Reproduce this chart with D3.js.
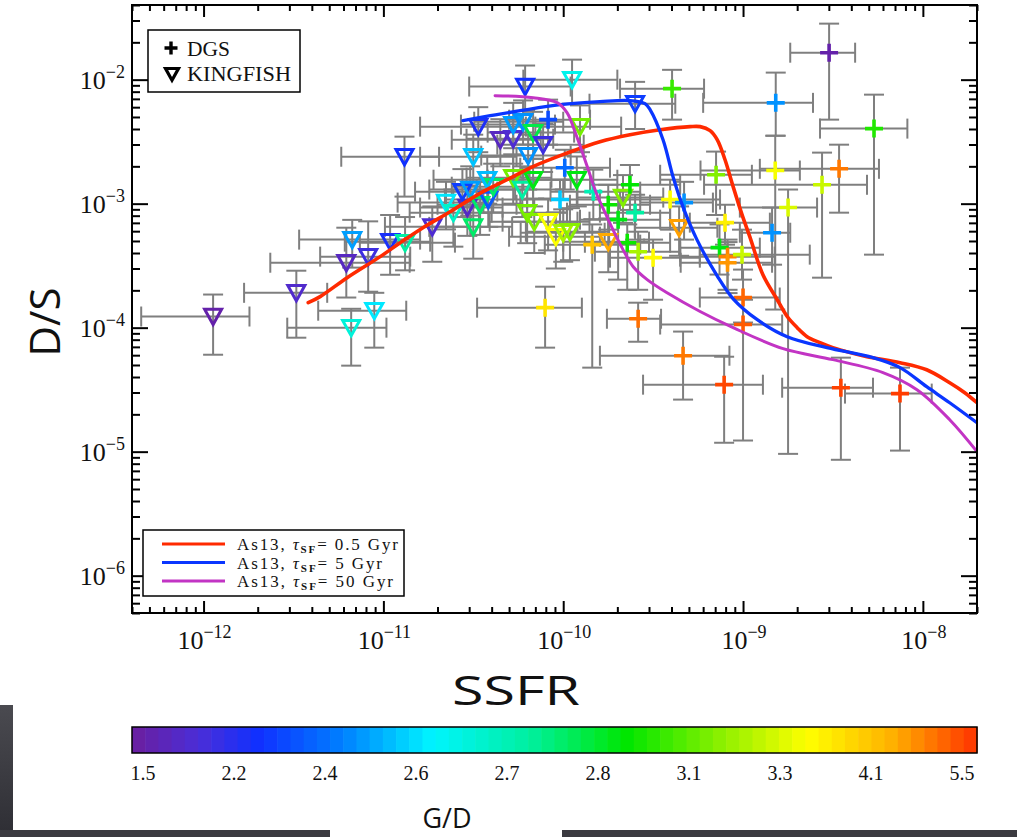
<!DOCTYPE html>
<html>
<head>
<meta charset="utf-8">
<script src="https://cdn.jsdelivr.net/npm/d3@7"></script>
<style>
  html, body { margin: 0; padding: 0; background: #fff; }
  svg { display: block; }
</style>
</head>
<body>
<svg id="chart" width="1017" height="837"></svg>
<script>
// ---- Model tracks (As13) : SSFR vs D/S ----
const redSSFR = [3.82e-12, 4.45e-12, 6.29e-12, 9.6e-12, 1.24e-11, 1.66e-11, 2.35e-11, 3.58e-11, 4.87e-11, 6.79e-11, 1.03e-10, 1.6e-10, 2.35e-10, 3.46e-10, 5.08e-10, 5.77e-10, 6.56e-10, 7.18e-10, 7.94e-10, 8.81e-10, 9.87e-10, 1.09e-9, 1.29e-9, 1.55e-9, 1.76e-9, 2.0e-9, 2.27e-9, 2.68e-9, 3.16e-9, 3.93e-9, 4.89e-9, 7.47e-9, 1.05e-8, 1.41e-8, 1.71e-8, 2.0e-8];
const redDS = [1.59e-4, 1.78e-4, 2.53e-4, 3.74e-4, 4.84e-4, 6.4e-4, 8.61e-4, 1.25e-3, 1.56e-3, 1.99e-3, 2.53e-3, 3.16e-3, 3.6e-3, 3.95e-3, 4.18e-3, 4.18e-3, 3.88e-3, 3.28e-3, 2.26e-3, 1.37e-3, 8.15e-4, 5.42e-4, 2.67e-4, 1.68e-4, 1.23e-4, 1.0e-4, 8.46e-5, 7.57e-5, 6.9e-5, 6.29e-5, 5.83e-5, 5.22e-5, 4.58e-5, 3.6e-5, 2.99e-5, 2.48e-5];

const blueSSFR = [2.77e-11, 3.93e-11, 5.77e-11, 9.62e-11, 1.6e-10, 2.35e-10, 2.85e-10, 3.04e-10, 3.59e-10, 4.08e-10, 4.63e-10, 5.54e-10, 7.18e-10, 8.81e-10, 1.2e-9, 1.76e-9, 2.93e-9, 5.28e-9, 7.47e-9, 1.05e-8, 1.41e-8, 2.0e-8];
const blueDS = [4.67e-3, 5.12e-3, 5.62e-3, 6.28e-3, 6.65e-3, 6.78e-3, 6.4e-3, 5.73e-3, 3.28e-3, 1.65e-3, 9.46e-4, 5.13e-4, 2.62e-4, 1.71e-4, 1.16e-4, 8.46e-5, 6.9e-5, 5.73e-5, 4.76e-5, 3.34e-5, 2.48e-5, 1.71e-5];

const magSSFR = [4.18e-11, 6.81e-11, 9.25e-11, 1.05e-10, 1.19e-10, 1.36e-10, 1.54e-10, 1.71e-10, 1.89e-10, 2.15e-10, 2.45e-10, 2.93e-10, 3.78e-10, 5.77e-10, 8.81e-10, 1.67e-9, 3.16e-9, 6.0e-9, 9.27e-9, 1.41e-8, 2.0e-8];
const magDS = [7.43e-3, 7.16e-3, 6.53e-3, 5.42e-3, 3.47e-3, 1.99e-3, 1.18e-3, 8.46e-4, 6.17e-4, 4.26e-4, 3.1e-4, 2.44e-4, 1.91e-4, 1.35e-4, 1.0e-4, 6.77e-5, 5.52e-5, 4.34e-5, 3.16e-5, 1.81e-5, 1.0e-5];

const modelTau = ["0.5", "5", "50"];

// ---- KINGFISH galaxies: [SSFR, SSFR lo, SSFR hi, D/S, D/S lo, D/S hi, G/D] ----
const kingfish = [
  [1.13e-12, 4.5e-13, 1.8e-12, 1.23e-4, 6.05e-5, 1.85e-4, 1.6],
  [3.28e-12, 1.68e-12, 4.87e-12, 1.91e-4, 8.3e-5, 2.88e-4, 1.9],
  [6.71e-12, 3.4e-12, 1.6e-11, 5.13e-4, 3.05e-4, 7.4e-4, 2.5],
  [6.22e-12, 2.35e-12, 1.4e-11, 3.34e-4, 1.75e-4, 6.4e-4, 1.8],
  [8.23e-12, 4.45e-12, 1.41e-11, 3.74e-4, 1.95e-4, 7.2e-4, 2.1],
  [1.09e-11, 6.1e-12, 1.82e-11, 4.94e-4, 2.67e-4, 8.1e-4, 2.25],
  [1.32e-11, 7.4e-12, 2.5e-11, 4.85e-4, 2.9e-4, 7.8e-4, 2.72],
  [6.62e-12, 2.92e-12, 1.04e-11, 1.0e-4, 4.94e-5, 1.42e-4, 2.66],
  [8.9e-12, 4.34e-12, 1.34e-11, 1.37e-4, 6.9e-5, 1.91e-4, 2.61],
  [1.31e-11, 5.83e-12, 2.04e-11, 2.39e-3, 1.14e-3, 3.47e-3, 2.27],
  [1.87e-11, 1.02e-11, 3.04e-11, 6.5e-4, 3.4e-4, 9.5e-4, 1.95],
  [2.23e-11, 1.2e-11, 3.6e-11, 1.02e-3, 6.2e-4, 1.5e-3, 2.61],
  [2.45e-11, 1.4e-11, 4.0e-11, 8.46e-4, 4.5e-4, 1.3e-3, 2.68],
  [2.93e-11, 1.6e-11, 4.6e-11, 9.3e-4, 5.5e-4, 1.4e-3, 1.85],
  [2.75e-11, 1.5e-11, 4.3e-11, 1.25e-3, 7.8e-4, 1.9e-3, 2.3],
  [3.04e-11, 1.8e-11, 5.4e-11, 1.3e-3, 8.0e-4, 2.0e-3, 2.5],
  [3.45e-11, 2.0e-11, 5.5e-11, 9.8e-4, 5.6e-4, 1.5e-3, 2.76],
  [3.83e-11, 2.2e-11, 6.3e-11, 1.08e-3, 6.5e-4, 1.6e-3, 2.36],
  [4.08e-11, 2.4e-11, 6.8e-11, 1.37e-3, 8.5e-4, 2.1e-3, 2.76],
  [3.78e-11, 1.9e-11, 6.0e-11, 1.56e-3, 1.0e-3, 2.4e-3, 2.55],
  [3.16e-11, 1.6e-11, 5.5e-11, 2.39e-3, 1.5e-3, 3.6e-3, 2.56],
  [3.16e-11, 1.8e-11, 5.2e-11, 6.5e-4, 3.6e-4, 9.5e-4, 2.76],
  [3.37e-11, 1.6e-11, 6.2e-11, 4.18e-3, 2.6e-3, 6.0e-3, 2.24],
  [4.47e-11, 2.4e-11, 7.5e-11, 3.28e-3, 2.0e-3, 4.8e-3, 1.8],
  [5.27e-11, 2.9e-11, 8.8e-11, 3.34e-3, 2.1e-3, 5.0e-3, 1.95],
  [5.27e-11, 2.7e-11, 9.0e-11, 4.34e-3, 2.8e-3, 6.5e-3, 2.5],
  [5.98e-11, 3.2e-11, 1.0e-10, 4.58e-3, 3.0e-3, 6.8e-3, 2.48],
  [6.8e-11, 3.8e-11, 1.15e-10, 3.74e-3, 2.3e-3, 5.5e-3, 2.78],
  [7.73e-11, 4.3e-11, 1.3e-10, 2.99e-3, 1.8e-3, 4.4e-3, 2.1],
  [6.38e-11, 3.5e-11, 1.1e-10, 2.44e-3, 1.5e-3, 3.6e-3, 2.48],
  [6.14e-11, 3.0e-11, 1.1e-10, 8.8e-3, 5.6e-3, 1.3e-2, 2.27],
  [1.12e-10, 6.0e-11, 2.0e-10, 1.0e-2, 6.4e-3, 1.45e-2, 2.64],
  [2.51e-10, 1.4e-10, 4.2e-10, 6.4e-3, 4.0e-3, 9.6e-3, 2.3],
  [1.24e-10, 7.0e-11, 2.1e-10, 4.18e-3, 2.6e-3, 6.2e-3, 3.12],
  [1.19e-10, 6.5e-11, 2.0e-10, 1.56e-3, 9.5e-4, 2.4e-3, 2.85],
  [5.27e-11, 2.9e-11, 8.6e-11, 1.62e-3, 1.0e-3, 2.5e-3, 3.12],
  [5.92e-11, 3.3e-11, 1.0e-10, 1.3e-3, 7.8e-4, 2.0e-3, 2.72],
  [6.8e-11, 3.8e-11, 1.1e-10, 1.56e-3, 9.5e-4, 2.3e-3, 2.84],
  [6.3e-11, 3.4e-11, 1.05e-10, 8.46e-4, 4.8e-4, 1.3e-3, 3.12],
  [6.9e-11, 3.9e-11, 1.2e-10, 7.16e-4, 4.0e-4, 1.1e-3, 3.14],
  [8.24e-11, 4.6e-11, 1.4e-10, 7.16e-4, 4.2e-4, 1.1e-3, 3.4],
  [9.1e-11, 5.0e-11, 1.6e-10, 5.42e-4, 3.0e-4, 8.5e-4, 3.45],
  [1.0e-10, 5.8e-11, 1.7e-10, 5.83e-4, 3.4e-4, 9.0e-4, 3.2],
  [1.09e-10, 6.2e-11, 1.8e-10, 5.94e-4, 3.5e-4, 9.2e-4, 3.15],
  [1.78e-10, 1.0e-10, 3.0e-10, 4.94e-4, 2.8e-4, 7.6e-4, 4.3],
  [2.15e-10, 1.2e-10, 3.6e-10, 1.12e-3, 7.0e-4, 1.7e-3, 3.14],
  [4.41e-10, 2.5e-10, 7.2e-10, 6.4e-4, 3.8e-4, 9.5e-4, 4.4]
];

// ---- DGS galaxies: [SSFR, SSFR lo, SSFR hi, D/S, D/S lo, D/S hi, G/D] ----
const dgs = [
  [3.01e-9, 1.83e-9, 4.2e-9, 1.65e-2, 4.76e-3, 2.83e-2, 1.6],
  [4.03e-10, 2.07e-10, 6.07e-10, 8.46e-3, 4.76e-3, 1.2e-2, 3.0],
  [1.52e-9, 6.0e-10, 2.45e-9, 6.5e-3, 3.53e-3, 1.14e-2, 2.48],
  [5.35e-9, 2.68e-9, 8.2e-9, 4.03e-3, 3.88e-4, 7.57e-3, 2.95],
  [3.42e-9, 1.24e-9, 5.7e-9, 1.91e-3, 8.46e-4, 2.99e-3, 4.8],
  [1.51e-9, 5.8e-10, 2.07e-9, 1.85e-3, 1.4e-4, 3.53e-3, 3.4],
  [2.75e-9, 6.07e-10, 4.89e-9, 1.42e-3, 2.53e-4, 2.58e-3, 3.25],
  [1.78e-9, 9.6e-10, 2.58e-9, 9.3e-4, 9.6e-6, 1.3e-3, 3.28],
  [7.08e-10, 3.46e-10, 1.12e-9, 1.71e-3, 8.1e-4, 2.63e-3, 3.14],
  [3.93e-10, 2.07e-10, 7.45e-10, 1.08e-3, 6.17e-4, 1.56e-3, 3.45],
  [4.7e-10, 2.68e-10, 6.8e-10, 1.02e-3, 5.13e-4, 1.5e-3, 2.48],
  [7.94e-10, 5.06e-10, 1.41e-9, 7.03e-4, 4.67e-4, 9.8e-4, 3.6],
  [1.45e-9, 9.6e-10, 1.83e-9, 5.83e-4, 3.22e-4, 9.3e-4, 2.48],
  [7.4e-10, 4.47e-10, 1.24e-9, 4.42e-4, 2.68e-4, 6.8e-4, 2.85],
  [8.2e-10, 4.47e-10, 1.5e-9, 3.74e-4, 2.02e-4, 5.13e-4, 4.7],
  [8.2e-10, 4.5e-10, 1.45e-9, 3.34e-4, 1.9e-4, 4.9e-4, 4.5],
  [9.87e-10, 5.75e-10, 2.35e-9, 3.88e-4, 2.44e-4, 6.17e-4, 3.25],
  [1.0e-9, 5.75e-10, 1.6e-9, 1.75e-4, 1.1e-4, 2.94e-4, 5.0],
  [1.0e-9, 3.46e-10, 1.65e-9, 1.06e-4, 1.23e-5, 1.68e-4, 5.1],
  [2.61e-10, 1.75e-10, 3.5e-10, 1.18e-4, 7.7e-5, 1.59e-4, 4.9],
  [4.64e-10, 1.6e-10, 8.4e-10, 5.94e-5, 2.63e-5, 9.3e-5, 4.8],
  [7.85e-10, 2.78e-10, 1.29e-9, 3.47e-5, 1.18e-5, 5.83e-5, 5.3],
  [3.5e-9, 1.65e-9, 5.28e-9, 3.28e-5, 8.6e-6, 5.73e-5, 5.35],
  [7.46e-9, 3.69e-9, 1.12e-8, 2.94e-5, 1.02e-5, 4.76e-5, 5.4],
  [7.93e-11, 3.32e-11, 1.27e-10, 1.45e-4, 6.9e-5, 2.14e-4, 3.7],
  [8.24e-11, 5.0e-11, 1.41e-10, 4.76e-3, 2.99e-3, 6.9e-3, 2.33],
  [1.02e-10, 5.77e-11, 1.82e-10, 1.95e-3, 1.3e-3, 2.72e-3, 2.4],
  [9.6e-11, 5.77e-11, 1.6e-10, 1.08e-3, 6.8e-4, 1.56e-3, 2.57],
  [1.47e-10, 8.5e-11, 2.68e-10, 1.25e-3, 7.5e-4, 1.88e-3, 2.7],
  [1.45e-10, 7.9e-11, 2.68e-10, 4.67e-4, 4.76e-5, 6.8e-4, 4.0],
  [2.35e-10, 1.41e-10, 4.47e-10, 1.42e-3, 8.9e-4, 2.05e-3, 2.88],
  [1.78e-10, 1.09e-10, 3.04e-10, 9.8e-4, 6.17e-4, 1.42e-3, 2.9],
  [2.02e-10, 1.24e-10, 3.46e-10, 7.43e-4, 2.44e-4, 1.08e-3, 2.84],
  [2.51e-10, 1.6e-10, 3.93e-10, 8.46e-4, 5.13e-4, 1.18e-3, 2.72],
  [2.27e-10, 1.32e-10, 3.93e-10, 4.84e-4, 2.02e-4, 6.8e-4, 2.9],
  [2.61e-10, 1.5e-10, 4.47e-10, 4.1e-4, 2.02e-4, 5.94e-4, 3.2],
  [3.16e-10, 1.82e-10, 5.75e-10, 3.67e-4, 1.68e-4, 5.13e-4, 3.5]
];

// ---- Colour bar (G/D) ----
const gdTicks = [1.5, 2.2, 2.4, 2.6, 2.7, 2.8, 3.1, 3.3, 4.1, 5.5];
const rainbowStops = ["#6b1e9e", "#4a2ed8", "#1030ff", "#0080ff", "#00f4ff", "#00f0a0", "#00e600", "#90f000", "#ffff00", "#ffb000", "#ff3300"];
const rainbowPos = [0, 0.08, 0.15, 0.25, 0.355, 0.47, 0.585, 0.70, 0.80, 0.90, 1.0];

// ---- Axis decades ----
const xDecades = [-12, -11, -10, -9, -8];
const yDecades = [-6, -5, -4, -3, -2];

// ---------------- drawing ----------------
const svg = d3.select("#chart");
const W = 1017, H = 837;
const plot = { left: 132, right: 977, top: 5, bottom: 613 };

const x = d3.scaleLog().domain([4e-13, 2e-8]).range([plot.left, plot.right]);
const y = d3.scaleLog().domain([5e-7, 4e-2]).range([plot.bottom, plot.top]);

const rainbow = d3.scaleLinear().domain(rainbowPos).range(rainbowStops).interpolate(d3.interpolateRgb);
const gdToT = d3.scaleLinear().domain(gdTicks).range(gdTicks.map((d, i) => i / (gdTicks.length - 1))).clamp(true);
const gdColor = gd => rainbow(gdToT(gd));

// screen edge (dark strips along lower-left and bottom)
const defs = svg.append("defs");
const edgeGrad = defs.append("linearGradient")
  .attr("id", "edge").attr("x1", 0).attr("x2", 0).attr("y1", 0).attr("y2", 1);
edgeGrad.append("stop").attr("offset", "0%").attr("stop-color", "#4a4a50");
edgeGrad.append("stop").attr("offset", "100%").attr("stop-color", "#2e2e34");
svg.append("rect").attr("x", 0).attr("y", 705).attr("width", 13).attr("height", H - 705).attr("fill", "url(#edge)");
svg.append("rect").attr("x", 0).attr("y", 830).attr("width", 330).attr("height", 7).attr("fill", "#3b3a40");
svg.append("rect").attr("x", 562).attr("y", 830).attr("width", W - 562).attr("height", 7).attr("fill", "#3b3a40");

const gPlot = svg.append("g");

defs.append("clipPath").attr("id", "clip")
  .append("rect").attr("x", plot.left).attr("y", plot.top)
  .attr("width", plot.right - plot.left).attr("height", plot.bottom - plot.top);

const gData = gPlot.append("g").attr("clip-path", "url(#clip)");

// error bars
const errColor = "#7f7f7f";
const cap = 10;
function drawErrors(data) {
  const g = gData.append("g").attr("stroke", errColor).attr("stroke-width", 2).attr("fill", "none");
  data.forEach(d => {
    const cx = x(d[0]), cy = y(d[3]);
    const xl = x(d[1]), xh = x(d[2]), yl = y(d[4]), yh = y(d[5]);
    g.append("line").attr("x1", xl).attr("x2", xh).attr("y1", cy).attr("y2", cy);
    g.append("line").attr("x1", xl).attr("x2", xl).attr("y1", cy - cap).attr("y2", cy + cap);
    g.append("line").attr("x1", xh).attr("x2", xh).attr("y1", cy - cap).attr("y2", cy + cap);
    g.append("line").attr("x1", cx).attr("x2", cx).attr("y1", yl).attr("y2", yh);
    g.append("line").attr("x1", cx - cap).attr("x2", cx + cap).attr("y1", yl).attr("y2", yl);
    g.append("line").attr("x1", cx - cap).attr("x2", cx + cap).attr("y1", yh).attr("y2", yh);
  });
}
drawErrors(kingfish);
drawErrors(dgs);

// markers
const triPath = (cx, cy, s) => `M${cx - s},${cy - s * 0.85}L${cx + s},${cy - s * 0.85}L${cx},${cy + s * 0.95}Z`;
gData.append("g").selectAll("path").data(kingfish).join("path")
  .attr("d", d => triPath(x(d[0]), y(d[3]), 8.5))
  .attr("fill", "none").attr("stroke", d => gdColor(d[6])).attr("stroke-width", 3)
  .attr("stroke-linejoin", "miter");

const crossPath = (cx, cy, s) => `M${cx - s},${cy}H${cx + s}M${cx},${cy - s}V${cy + s}`;
gData.append("g").selectAll("path").data(dgs).join("path")
  .attr("d", d => crossPath(x(d[0]), y(d[3]), 9))
  .attr("fill", "none").attr("stroke", d => gdColor(d[6])).attr("stroke-width", 3.6);

// model curves
const models = [
  { ssfr: redSSFR, ds: redDS, color: "#ff2a00", w: 3.6, textLen: 161 },
  { ssfr: blueSSFR, ds: blueDS, color: "#0a36ff", w: 3.3, textLen: 145 },
  { ssfr: magSSFR, ds: magDS, color: "#c234c4", w: 3.0, textLen: 156 }
];
const line = d3.line().x(d => x(d[0])).y(d => y(d[1])).curve(d3.curveCatmullRom.alpha(0.5));
models.forEach(m => {
  gData.append("path").datum(m.ssfr.map((s, i) => [s, m.ds[i]]))
    .attr("d", line).attr("fill", "none").attr("stroke", m.color)
    .attr("stroke-width", m.w).attr("stroke-linecap", "round");
});

// axes: ticks point inwards on all four sides
const xMajor = xDecades.map(e => Math.pow(10, e));
const yMajor = yDecades.map(e => Math.pow(10, e));
const xMinor = [], yMinor = [];
for (let e = -13; e <= -8; e++) for (let k = 2; k <= 9; k++) {
  const v = k * Math.pow(10, e);
  if (v >= 4e-13 && v <= 2e-8) xMinor.push(v);
}
for (let e = -7; e <= -2; e++) for (let k = 2; k <= 9; k++) {
  const v = k * Math.pow(10, e);
  if (v >= 5e-7 && v <= 4e-2) yMinor.push(v);
}
const axStyle = g => { g.select(".domain").remove(); g.selectAll("line").attr("stroke", "#000").attr("stroke-width", 2); g.selectAll("text").remove(); };

gPlot.append("g").attr("transform", `translate(0,${plot.bottom})`).call(d3.axisBottom(x).tickValues(xMajor).tickSize(-12).tickFormat("")).call(axStyle);
gPlot.append("g").attr("transform", `translate(0,${plot.bottom})`).call(d3.axisBottom(x).tickValues(xMinor).tickSize(-6).tickFormat("")).call(axStyle);
gPlot.append("g").attr("transform", `translate(0,${plot.top})`).call(d3.axisTop(x).tickValues(xMajor).tickSize(-12).tickFormat("")).call(axStyle);
gPlot.append("g").attr("transform", `translate(0,${plot.top})`).call(d3.axisTop(x).tickValues(xMinor).tickSize(-6).tickFormat("")).call(axStyle);
gPlot.append("g").attr("transform", `translate(${plot.left},0)`).call(d3.axisLeft(y).tickValues(yMajor).tickSize(-16).tickFormat("")).call(axStyle);
gPlot.append("g").attr("transform", `translate(${plot.left},0)`).call(d3.axisLeft(y).tickValues(yMinor).tickSize(-8).tickFormat("")).call(axStyle);
gPlot.append("g").attr("transform", `translate(${plot.right},0)`).call(d3.axisRight(y).tickValues(yMajor).tickSize(-16).tickFormat("")).call(axStyle);
gPlot.append("g").attr("transform", `translate(${plot.right},0)`).call(d3.axisRight(y).tickValues(yMinor).tickSize(-8).tickFormat("")).call(axStyle);

gPlot.append("rect").attr("x", plot.left).attr("y", plot.top)
  .attr("width", plot.right - plot.left).attr("height", plot.bottom - plot.top)
  .attr("fill", "none").attr("stroke", "#000").attr("stroke-width", 2);

// tick labels 10^n
const serif = "'Liberation Serif', 'DejaVu Serif', serif";
function powLabel(g, px, py, exp, anchor) {
  const t = g.append("text").attr("x", px).attr("y", py).attr("text-anchor", anchor)
    .attr("font-family", serif).attr("font-size", 26).attr("fill", "#111");
  t.append("tspan").text("10");
  t.append("tspan").attr("dy", -11).attr("font-size", 18).text("\u2212" + Math.abs(exp));
}
const gLab = svg.append("g");
xDecades.forEach(e => powLabel(gLab, x(Math.pow(10, e)) + 1, 649, e, "middle"));
yDecades.forEach(e => powLabel(gLab, 125, y(Math.pow(10, e)) + 9, e, "end"));

// axis titles
const sans = "'Open Sans', 'Noto Sans', sans-serif";
svg.append("text").attr("transform", `translate(60,322) rotate(-90)`).attr("text-anchor", "middle")
  .attr("font-family", sans).attr("font-size", 42).attr("fill", "#111").text("D/S");
svg.append("text").attr("x", 516).attr("y", 705).attr("text-anchor", "middle")
  .attr("font-family", sans).attr("font-size", 40).attr("fill", "#111")
  .attr("textLength", 128).attr("lengthAdjust", "spacingAndGlyphs").text("SSFR");

// legend: samples
const lg1 = svg.append("g");
lg1.append("rect").attr("x", 148).attr("y", 30).attr("width", 152).attr("height", 62)
  .attr("fill", "#fff").attr("stroke", "#000").attr("stroke-width", 1.5);
lg1.append("path").attr("d", crossPath(171, 48, 6.5)).attr("stroke", "#000").attr("stroke-width", 3.4).attr("fill", "none");
lg1.append("path").attr("d", triPath(172, 74, 6.5)).attr("stroke", "#000").attr("stroke-width", 3.2).attr("fill", "none");
lg1.append("text").attr("x", 187).attr("y", 56).attr("font-family", serif).attr("font-size", 22).attr("fill", "#111")
  .attr("textLength", 43).attr("lengthAdjust", "spacingAndGlyphs").text("DGS");
lg1.append("text").attr("x", 187).attr("y", 81).attr("font-family", serif).attr("font-size", 22).attr("fill", "#111")
  .attr("textLength", 104).attr("lengthAdjust", "spacingAndGlyphs").text("KINGFISH");

// legend: models
const lg2 = svg.append("g");
lg2.append("rect").attr("x", 143).attr("y", 530).attr("width", 261).attr("height", 66)
  .attr("fill", "#fff").attr("stroke", "#000").attr("stroke-width", 1.5);
models.forEach((m, i) => {
  const ly = 544 + i * 18.5;
  lg2.append("line").attr("x1", 162).attr("x2", 225).attr("y1", ly).attr("y2", ly)
    .attr("stroke", m.color).attr("stroke-width", 3);
  const t = lg2.append("text").attr("x", 237).attr("y", ly + 6).attr("font-family", serif)
    .attr("font-size", 17).attr("fill", "#111").attr("xml:space", "preserve")
    .attr("textLength", m.textLen).attr("lengthAdjust", "spacing");
  t.append("tspan").text("As13, ");
  t.append("tspan").attr("font-style", "italic").text("\u03C4");
  t.append("tspan").attr("dy", 3).attr("font-size", 11).attr("font-weight", "bold").text("SF");
  t.append("tspan").attr("dy", -3).text("= " + modelTau[i] + " Gyr");
});

// colour bar
const cb = { left: 132, right: 977, top: 727, bottom: 753 };
const nBands = 64;
const cbScale = d3.scaleLinear().domain([0, 1]).range([cb.left, cb.right]);
const bands = d3.range(nBands).map(i => i / nBands);
svg.append("g").selectAll("rect").data(bands).join("rect")
  .attr("x", d => cbScale(d)).attr("y", cb.top)
  .attr("width", (cb.right - cb.left) / nBands + 0.6).attr("height", cb.bottom - cb.top)
  .attr("fill", d => rainbow(d + 0.5 / nBands));
svg.append("rect").attr("x", cb.left).attr("y", cb.top).attr("width", cb.right - cb.left)
  .attr("height", cb.bottom - cb.top).attr("fill", "none").attr("stroke", "#000").attr("stroke-width", 1.5);
const cbLab = d3.scalePoint().domain(gdTicks.map(String)).range([143, 962]);
svg.append("g").selectAll("text").data(gdTicks).join("text")
  .attr("x", d => cbLab(String(d))).attr("y", 780).attr("text-anchor", "middle")
  .attr("font-family", serif).attr("font-size", 20).attr("fill", "#111")
  .text(d => d.toFixed(1));
svg.append("text").attr("x", 447).attr("y", 828).attr("text-anchor", "middle")
  .attr("font-family", sans).attr("font-size", 27).attr("fill", "#111").text("G/D");
</script>
</body>
</html>
